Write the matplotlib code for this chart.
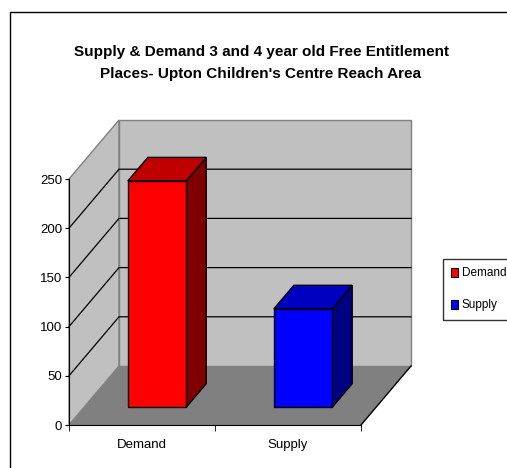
import matplotlib
matplotlib.use('Agg')
import matplotlib.pyplot as plt
from matplotlib.patches import Polygon, Rectangle

# data
categories = ['Demand', 'Supply']
values = [230, 100]
yticks = [0, 50, 100, 150, 200, 250]
front_colors = ['#FF0000', '#0000FF']
top_colors = ['#C00000', '#0000C0']
side_colors = ['#800000', '#000080']

plt.rcParams['font.family'] = ['Liberation Sans', 'DejaVu Sans']

W, H = 507, 468
fig = plt.figure(figsize=(W / 100, H / 100), dpi=100)

# outer frame
fig.add_artist(Rectangle((10 / W, -0.1), 1.2, 1 - 12 / H + 0.1, transform=fig.transFigure,
                         facecolor='none', edgecolor='black', linewidth=1.0))

# front plane of the 3d box
ax = fig.add_axes([69 / W, (H - 425) / H, 292 / W, 246 / H])
ax.set_xlim(0, len(categories))
ax.set_ylim(0, 250)
ax.patch.set_visible(False)

# oblique depth offset (data units)
dx = 50 / 146
dy = 59 / (246 / 250)
ymax = yticks[-1]
n = len(categories)

# side wall
ax.add_patch(Polygon([(0, 0), (0, ymax), (dx, ymax + dy), (dx, dy)], closed=True,
                     facecolor='#C0C0C0', edgecolor='#808080', linewidth=1, clip_on=False, zorder=1))
# back wall
ax.add_patch(Polygon([(dx, dy), (dx, ymax + dy), (n + dx, ymax + dy), (n + dx, dy)], closed=True,
                     facecolor='#C0C0C0', edgecolor='#808080', linewidth=1, clip_on=False, zorder=1))
# floor
ax.add_patch(Polygon([(0, 0), (dx, dy), (n + dx, dy), (n, 0)], closed=True,
                     facecolor='#808080', edgecolor='none', clip_on=False, zorder=1))
ax.plot([n, n + dx], [0, dy], color='black', lw=1, clip_on=False, zorder=2)

# gridlines
for t in yticks[1:-1]:
    ax.plot([0, dx, n + dx], [t, t + dy, t + dy], color='black', lw=0.9, clip_on=False, zorder=2)

# bars
width = 0.4
d0, d1 = 0.3, 0.7
for i, v in enumerate(values):
    x0 = i + 0.5 - width / 2
    x1 = i + 0.5 + width / 2
    fx, fy = d0 * dx, d0 * dy
    bx, by = d1 * dx, d1 * dy
    front = [(x0 + fx, fy), (x0 + fx, fy + v), (x1 + fx, fy + v), (x1 + fx, fy)]
    top = [(x0 + fx, fy + v), (x0 + bx, by + v), (x1 + bx, by + v), (x1 + fx, fy + v)]
    side = [(x1 + fx, fy), (x1 + fx, fy + v), (x1 + bx, by + v), (x1 + bx, by)]
    for pts, c in [(side, side_colors[i]), (top, top_colors[i]), (front, front_colors[i])]:
        ax.add_patch(Polygon(pts, closed=True, facecolor=c, edgecolor='black',
                             linewidth=1, clip_on=False, zorder=3))

# axes
for s in ['top', 'right']:
    ax.spines[s].set_visible(False)
ax.spines['left'].set_zorder(4)
ax.spines['bottom'].set_zorder(4)
ax.set_yticks(yticks)
ax.tick_params(axis='y', length=3, pad=2, labelsize=9.5)
ax.set_xticks([i + 0.5 for i in range(n)])
ax.set_xticklabels(categories)
ax.set_xticks(list(range(n + 1)), minor=True)
ax.tick_params(axis='x', which='major', length=0, pad=10, labelsize=9.5)
ax.tick_params(axis='x', which='minor', length=4)

fig.text(261 / W, 1 - 63 / H,
         "Supply & Demand 3 and 4 year old Free Entitlement\nPlaces- Upton Children's Centre Reach Area",
         ha='center', va='center', fontsize=11, fontweight='bold', linespacing=1.8)

handles = [Rectangle((0, 0), 1, 1, facecolor=c, edgecolor='black', linewidth=0.8) for c in front_colors]
fig.legend(handles, categories, loc='upper left', bbox_to_anchor=(443 / W, 1 - 259 / H),
           frameon=True, fancybox=False, edgecolor='black', fontsize=8.5,
           handlelength=0.6, handleheight=0.8, handletextpad=0.3, borderpad=0.7,
           labelspacing=1.7, borderaxespad=0)

fig.savefig('out.png', dpi=100)
